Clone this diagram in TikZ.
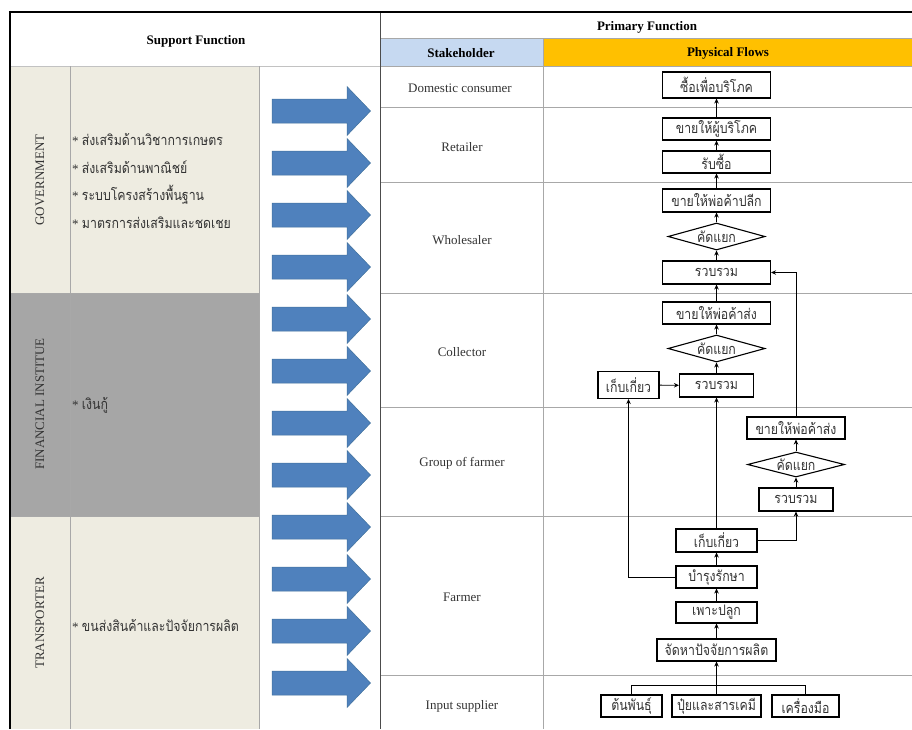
\documentclass[tikz,border=0pt]{standalone}
\usepackage{fontspec}
\setmainfont{Liberation Serif}
\newfontfamily\thai[Script=Thai,FakeStretch=0.85]{Loma}
\usetikzlibrary{shapes.geometric,arrows.meta}

\definecolor{tanfill}{HTML}{EEECE1}
\definecolor{greyfill}{HTML}{A6A6A6}
\definecolor{bluehead}{HTML}{C6D9F1}
\definecolor{goldhead}{HTML}{FFC000}
\definecolor{blockblue}{HTML}{4F81BD}
\definecolor{blockedge}{HTML}{41719C}
\definecolor{gridgrey}{HTML}{A8A8A8}
\definecolor{inkgrey}{HTML}{333333}

\newcommand\headfont{\fontsize{13}{15}\selectfont\bfseries}
\newcommand\labelfont{\fontsize{13}{15}\selectfont}
\newcommand\flowfont{\thai\fontsize{14.5}{16}\selectfont}
\newcommand\itemfont{\fontsize{13}{15}\selectfont}
\newcommand\itemthai{\thai\fontsize{14.5}{16}\selectfont}

\begin{document}
\begin{tikzpicture}[x=1pt,y=-1pt,
  grid/.style={draw=gridgrey, line width=0.8pt},
  headtext/.style={font=\headfont, text=black},
  rowlabel/.style={font=\labelfont, text=inkgrey},
  catlabel/.style={font=\labelfont, text=inkgrey, rotate=90},
  itemtext/.style={font=\itemfont, text=inkgrey, anchor=west, inner sep=0pt},
  flowbox/.style={draw=black, line width=1.1pt, fill=white, inner sep=0pt,
    font=\flowfont, text=inkgrey, minimum height=23pt},
  sortbox/.style={diamond, draw=black, line width=1.1pt, fill=white, aspect=3.6,
    inner sep=0pt, font=\flowfont, text=inkgrey, minimum width=97pt, minimum height=27pt},
  flowline/.style={draw=black, line width=0.9pt, -{Stealth[length=5pt,width=4.5pt]}},
  joinline/.style={draw=black, line width=0.9pt},
  blockarrow/.style={fill=blockblue, draw=blockedge, line width=0.5pt}
]
\useasboundingbox (0,0) rectangle (912,729);

% ---------- cell fills ----------
\fill[tanfill]  (10,66)  rectangle (259,293);
\fill[greyfill] (10,293) rectangle (259,516);
\fill[tanfill]  (10,516) rectangle (259,729);
\fill[bluehead] (380,38) rectangle (543,66);
\fill[goldhead] (543,38) rectangle (912,66);

% ---------- table rules ----------
\draw[draw=gridgrey!70, line width=0.8pt] (10,66) -- (380,66);
\draw[grid] (10,293) -- (259,293);
\draw[grid] (10,516) -- (259,516);
\draw[grid] (70,66) -- (70,729);
\draw[grid] (259,66) -- (259,729);
\draw[grid] (380,38) -- (912,38);
\draw[grid] (380,66) -- (912,66);
\foreach \yy in {107,182,293,407,516,675}
  \draw[grid] (380,\yy) -- (912,\yy);
\draw[grid] (543,38) -- (543,729);
\draw[draw=black!70, line width=1pt] (380,12) -- (380,729);
\draw[draw=black, line width=2.5pt] (8.75,12) -- (912,12);
\draw[draw=black, line width=2.5pt] (10,10.75) -- (10,729);

% ---------- headers ----------
\node[headtext] (hsupport) at (196,41) {Support Function};
\node[headtext] (hprimary) at (647,27) {Primary Function};
\node[headtext] (hstake)   at (461,53) {Stakeholder};
\node[headtext] (hflows)   at (728,53) {Physical Flows};

% ---------- support side ----------
\node[catlabel] (gov)   at (40,180) {GOVERNMENT};
\node[catlabel] (fin)   at (40,404) {FINANCIAL INSTITUE};
\node[catlabel] (trans) at (40,623) {TRANSPORTER};

\node[itemtext] (g1t) at (72,139) {* {\itemthai ส่งเสริมด้านวิชาการเกษตร}};
\node[itemtext] (g2t) at (72,167) {* {\itemthai ส่งเสริมด้านพาณิชย์}};
\node[itemtext] (g3t) at (72,195) {* {\itemthai ระบบโครงสร้างพื้นฐาน}};
\node[itemtext] (g4t) at (72,223) {* {\itemthai มาตรการส่งเสริมและชดเชย}};
\node[itemtext] (f1t) at (72,405) {* {\itemthai เงินกู้}};
\node[itemtext] (t1t) at (72,625) {* {\itemthai ขนส่งสินค้าและปัจจัยการผลิต}};

% block arrows feeding the primary chain
\foreach \c in {0,...,11}{
  \pgfmathsetmacro\yc{111+52*\c}
  \path[blockarrow] (272,\yc-12) -- (347,\yc-12) -- (347,\yc-24.5) -- (370.5,\yc)
    -- (347,\yc+24.5) -- (347,\yc+12) -- (272,\yc+12) -- cycle;
}

% ---------- stakeholder labels ----------
\node[rowlabel] (sdom)  at (460,88)  {Domestic consumer};
\node[rowlabel] (sret)  at (462,147) {Retailer};
\node[rowlabel] (swho)  at (462,240) {Wholesaler};
\node[rowlabel] (scol)  at (462,352) {Collector};
\node[rowlabel] (sgrp)  at (462,463) {Group of farmer};
\node[rowlabel] (sfarm) at (462,597) {Farmer};
\node[rowlabel] (sinp)  at (462,706) {Input supplier};

% ---------- physical flows ----------
\node[flowbox, minimum width=108pt, minimum height=26pt] (d1) at (716.5,85)  {ซื้อเพื่อบริโภค};
\node[flowbox, minimum width=108pt, minimum height=22pt] (r1) at (716.5,129) {ขายให้ผู้บริโภค};
\node[flowbox, minimum width=108pt, minimum height=22pt] (r2) at (716.5,162) {รับซื้อ};
\node[flowbox, minimum width=108pt] (w1) at (716.5,200.5) {ขายให้พ่อค้าปลีก};
\node[sortbox] (w2) at (716.5,236.5) {คัดแยก};
\node[flowbox, minimum width=108pt] (w3) at (716.5,272.5) {รวบรวม};
\node[flowbox, minimum width=108pt, minimum height=22pt] (c1) at (716.5,313) {ขายให้พ่อค้าส่ง};
\node[sortbox] (c2) at (716.5,348.5) {คัดแยก};
\node[flowbox, minimum width=74pt] (c3) at (716.5,385.5) {รวบรวม};
\node[flowbox, minimum width=61pt, minimum height=27pt] (c4) at (628.5,385) {เก็บเกี่ยว};
\node[flowbox, minimum width=98pt, minimum height=22pt] (p1) at (796,428) {ขายให้พ่อค้าส่ง};
\node[sortbox, minimum height=25pt] (p2) at (796,464.5) {คัดแยก};
\node[flowbox, minimum width=74pt] (p3) at (796,499.5) {รวบรวม};
\node[flowbox, minimum width=81pt] (m1) at (716.5,540.5) {เก็บเกี่ยว};
\node[flowbox, minimum width=81pt, minimum height=22pt] (m2) at (716.5,577) {บำรุงรักษา};
\node[flowbox, minimum width=81pt, minimum height=21pt] (m3) at (716.5,612.5) {เพาะปลูก};
\node[flowbox, minimum width=119pt, minimum height=22pt] (m4) at (716.5,650) {จัดหาปัจจัยการผลิต};
\node[flowbox, minimum width=61pt, minimum height=22pt] (i1) at (631.5,706) {ต้นพันธุ์};
\node[flowbox, minimum width=89pt, minimum height=22pt] (i2) at (716.5,706) {ปุ๋ยและสารเคมี};
\node[flowbox, minimum width=67pt, minimum height=22pt] (i3) at (805.5,706) {เครื่องมือ};
\coordinate (bus) at (716.5,685);

% main chain
\draw[flowline] (r1) -- (d1);
\draw[flowline] (r2) -- (r1);
\draw[flowline] (w1) -- (r2);
\draw[flowline] (w2) -- (w1);
\draw[flowline] (w3) -- (w2);
\draw[flowline] (c1) -- (w3);
\draw[flowline] (c2) -- (c1);
\draw[flowline] (c3) -- (c2);
\draw[flowline] (c4) -- (c3);
\draw[flowline] (m1) -- (c3);
\draw[flowline] (m2) -- (m1);
\draw[flowline] (m3) -- (m2);
\draw[flowline] (m4) -- (m3);
\draw[flowline] (i2) -- (m4);
% side branches
\draw[flowline] (m2.west) -| (c4.south);
\draw[flowline] (m1.east) -| (p3.south);
\draw[flowline] (p3) -- (p2);
\draw[flowline] (p2) -- (p1);
\draw[flowline] (p1.north) |- (w3.east);
% input supplier bus
\draw[joinline] (i1.north) |- (bus) -| (i3.north);
\end{tikzpicture}
\end{document}
